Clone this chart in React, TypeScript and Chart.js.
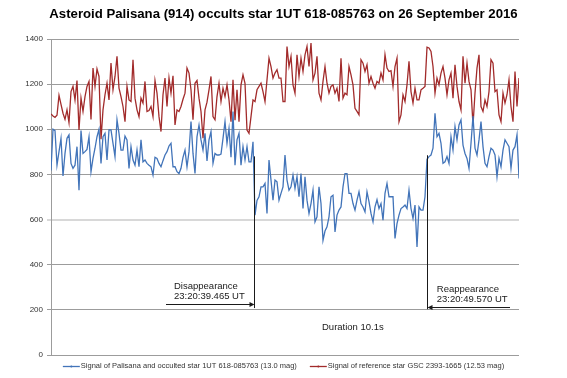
import React, { useEffect, useRef } from "react";
import { Chart, registerables } from "chart.js";

Chart.register(...registerables);

const TITLE = "Asteroid Palisana (914) occults star 1UT 618-085763 on 26 September 2016";
const SERIES_NAMES = [
  "Signal of Palisana and occulted star 1UT 618-085763 (13.0 mag)",
  "Signal of reference star GSC 2393-1665 (12.53 mag)",
];
const SERIES_COLORS = ["#4274b9", "#a22b2b"];
const Y_TICKS = [0, 200, 400, 600, 800, 1000, 1200, 1400];

// Signal of Palisana + occulted star (frames 0..234)
const palisana = [
  817, 1000, 994, 841, 901, 960, 793, 893, 960, 975,
  849, 827, 841, 923, 730, 994, 893, 901, 911, 967,
  812, 871, 916, 967, 1000, 849, 967, 982, 864, 997,
  997, 938, 879, 1042, 982, 908, 908, 970, 953, 827,
  923, 864, 841, 908, 834, 953, 856, 864, 849, 841,
  834, 797, 876, 871, 849, 834, 861, 886, 901, 926,
  938, 834, 834, 812, 804, 827, 876, 908, 834, 901,
  1034, 893, 804, 967, 1019, 953, 908, 982, 860,
  953, 990, 849, 893, 886, 886, 890, 960, 1034, 938,
  1004, 876, 1079, 841, 953, 982, 841, 923, 864, 923,
  856, 856, 945, 620, 685, 701, 745, 745, 760, 627,
  864, 775, 686, 775, 767, 686, 716, 745, 886, 775,
  730, 745, 797, 738, 790, 701, 804, 649, 790, 686,
  627, 671, 730, 590, 612, 745, 671, 508, 549, 568,
  612, 701, 708, 545, 620, 642, 656, 745, 804, 804,
  716, 716, 671, 642, 686, 723, 671, 656,
  634, 723, 679, 627, 590, 656, 688, 649, 671, 597,
  716, 760, 701, 701, 701, 516, 582, 620, 649, 656,
  664, 649, 730, 649, 605, 664, 479, 656, 642, 642,
  701, 867, 879, 886, 916, 1071, 967, 982, 938, 849,
  856, 879, 849, 967, 908, 1012, 953, 1019, 1042, 930,
  893, 871, 827, 938, 1059, 916, 886, 953, 1034, 923,
  849, 834, 879, 916, 908, 886, 790, 871, 834, 908,
  953, 938, 923, 827, 908, 923, 975, 782,
];

// Signal of reference star (frames 0..234)
const reference = [
  1068, 1059, 1053, 1062, 1150, 1110, 1071, 1044, 1086, 1030,
  1167, 1190, 1130, 1216, 997, 1138, 1079, 1145, 1190, 1212,
  1044, 1271, 1190, 1267, 1234, 956, 1086, 1153, 1204, 1130,
  1293, 1175, 1234, 1323, 1182, 1145, 1101, 1034, 1190, 1130,
  1123, 1308, 1138, 1086, 1056, 1138, 1116, 1212, 1079, 1083,
  1101, 1056, 1216, 1160, 1056, 990, 1153, 1227, 1101, 1227,
  1160, 1237, 1019, 1086, 1079, 1101, 1133, 1160, 1271, 1249,
  1175, 1042, 1204, 1216, 1138, 1079, 960, 1086, 1120,
  1175, 1234, 1056, 1042, 1145, 1204, 1123, 1182, 1145, 1197,
  1130, 1034, 1219, 1040, 1175, 1034, 1197, 1241, 1204, 997,
  982, 1056, 1130, 1123, 1175, 1190, 1204, 1167, 1123, 1219,
  1315, 1278, 1227, 1249, 1264, 1227, 1227, 1123, 1123, 1367,
  1278, 1323, 1197, 1160, 1330, 1234, 1315, 1256, 1330, 1367,
  1278, 1382, 1219, 1249, 1323, 1160, 1130, 1212, 1278, 1204,
  1160, 1190, 1197, 1160, 1182, 1123, 1315, 1138, 1160, 1153,
  1278, 1241, 1197, 1093, 1079, 1064, 1308, 1293,
  1256, 1286, 1204, 1234, 1204, 1182, 1212, 1204, 1249, 1219,
  1330, 1271, 1256, 1260, 1190, 1278, 1315, 1034, 1064, 1153,
  1123, 1197, 1301, 1167, 1116, 1182, 1130, 1130, 1175, 1182,
  1190, 1364, 1360, 1345, 1278, 1160, 1227, 1197, 1249, 1278,
  1227, 1153, 1219, 1249, 1138, 1286, 1190, 1123, 1086, 1323,
  1204, 1293, 1212, 1175, 1019, 1160, 1271, 1330, 1101, 1079,
  1130, 1101, 1167, 1308, 1293, 1167, 1175, 1064, 1034, 1160,
  1116, 1153, 1219, 1101, 1034, 1256, 1101, 1227,
];

const frames = palisana.map((_, i) => i);

// Event annotations (in data units: frame index / signal value)
const EVENTS = [
  { frame: 101.6, tailFrame: 57.5, arrowValue: 228, top: 880, bottom: 208, textFrame: 61.5, lines: ["Disappearance", "23:20:39.465 UT"] },
  { frame: 188.1, tailFrame: 229.5, arrowValue: 213, top: 885, bottom: 203, textFrame: 192.9, lines: ["Reappearance", "23:20:49.570 UT"] },
];
const DURATION = { frame: 135.5, value: 124, text: "Duration 10.1s" };

const FONT = "'Liberation Sans', Arial, sans-serif";

const overlay = {
  id: "overlay",
  afterDraw(chart: any) {
    const { ctx, scales } = chart;
    const xs = scales.x;
    const ys = scales.y;
    ctx.save();
    // title
    ctx.fillStyle = "#000";
    ctx.font = `bold 13.2px ${FONT}`;
    ctx.textAlign = "center";
    ctx.textBaseline = "middle";
    ctx.fillText(TITLE, chart.width / 2, 14);

    // events
    ctx.strokeStyle = "#1a1a1a";
    ctx.fillStyle = "#1a1a1a";
    ctx.lineWidth = 1;
    for (const ev of EVENTS) {
      const px = Math.round(xs.getPixelForValue(ev.frame)) + 0.5;
      const yTop = ys.getPixelForValue(ev.top);
      const yBot = ys.getPixelForValue(ev.bottom);
      ctx.beginPath();
      ctx.moveTo(px, yTop);
      ctx.lineTo(px, yBot);
      ctx.stroke();
      const ay = Math.round(ys.getPixelForValue(ev.arrowValue)) + 0.5;
      const tx = xs.getPixelForValue(ev.tailFrame);
      const dir = px > tx ? 1 : -1;
      ctx.beginPath();
      ctx.moveTo(tx, ay);
      ctx.lineTo(px - dir * 4, ay);
      ctx.stroke();
      ctx.beginPath();
      ctx.moveTo(px, ay);
      ctx.lineTo(px - dir * 5, ay - 2.5);
      ctx.lineTo(px - dir * 5, ay + 2.5);
      ctx.closePath();
      ctx.fill();
      ctx.font = `9.5px ${FONT}`;
      ctx.textAlign = "left";
      ctx.textBaseline = "middle";
      const lx = xs.getPixelForValue(ev.textFrame);
      ctx.fillText(ev.lines[0], lx, ay - 18);
      ctx.fillText(ev.lines[1], lx, ay - 8);
    }
    ctx.font = `9.5px ${FONT}`;
    ctx.fillText(DURATION.text, xs.getPixelForValue(DURATION.frame), ys.getPixelForValue(DURATION.value));

    // legend
    ctx.font = `7.5px ${FONT}`;
    ctx.textBaseline = "middle";
    const ly = 366;
    const w0 = ctx.measureText(SERIES_NAMES[0]).width;
    const w1 = ctx.measureText(SERIES_NAMES[1]).width;
    const total = 17 + 1 + w0 + 13 + 17 + 1 + w1;
    let cx = chart.width / 2 - total / 2;
    for (let k = 0; k < 2; k++) {
      ctx.strokeStyle = SERIES_COLORS[k];
      ctx.fillStyle = SERIES_COLORS[k];
      ctx.lineWidth = 1.3;
      ctx.beginPath();
      ctx.moveTo(cx, ly + 0.5);
      ctx.lineTo(cx + 17, ly + 0.5);
      ctx.stroke();
      ctx.beginPath();
      ctx.arc(cx + 8.5, ly + 0.5, 1, 0, Math.PI * 2);
      ctx.fill();
      ctx.fillStyle = "#333";
      ctx.fillText(SERIES_NAMES[k], cx + 18, ly);
      cx += 18 + (k === 0 ? w0 : w1) + 13;
    }
    ctx.restore();
  },
};

export default function App() {
  const ref = useRef<HTMLCanvasElement | null>(null);
  useEffect(() => {
    if (!ref.current) return;
    const chart = new Chart(ref.current, {
      type: "line",
      data: {
        datasets: [
          {
            label: SERIES_NAMES[0],
            data: palisana.map((v, i) => ({ x: frames[i], y: v })),
            borderColor: SERIES_COLORS[0],
            borderWidth: 1.3,
            pointRadius: 0,
            tension: 0,
          },
          {
            label: SERIES_NAMES[1],
            data: reference.map((v, i) => ({ x: frames[i], y: v })),
            borderColor: SERIES_COLORS[1],
            borderWidth: 1.3,
            pointRadius: 0,
            tension: 0,
          },
        ],
      },
      options: {
        animation: false,
        responsive: false,
        layout: { padding: { left: 0, right: 48, top: 39, bottom: 23 } },
        plugins: { legend: { display: false }, title: { display: false }, tooltip: { enabled: false } },
        scales: {
          x: { type: "linear", min: 0, max: frames.length - 1, display: false },
          y: {
            min: 0,
            max: 1400,
            afterFit: (s: any) => { s.width = 51; },
            afterBuildTicks: (s: any) => { s.ticks = Y_TICKS.map((v) => ({ value: v })); },
            ticks: {
              color: "#333",
              font: { family: FONT, size: 8 },
              padding: 4,
              callback: (v: any) => String(v),
            },
            grid: {
              color: (c: any) => (c.tick && c.tick.value === 600 ? "#d8d8d8" : "#9c9c9c"),
              lineWidth: (c: any) => (c.tick && c.tick.value === 600 ? 2 : 1),
              tickLength: 4,
            },
            border: { display: true, color: "#9c9c9c", width: 1 },
          },
        },
      },
      plugins: [overlay],
    });
    return () => chart.destroy();
  }, []);
  return (
    <div style={{ position: "absolute", left: 0, top: 0, width: 567, height: 378, background: "#fff" }}>
      <canvas ref={ref} width={567} height={378} style={{ display: "block" }} />
    </div>
  );
}
